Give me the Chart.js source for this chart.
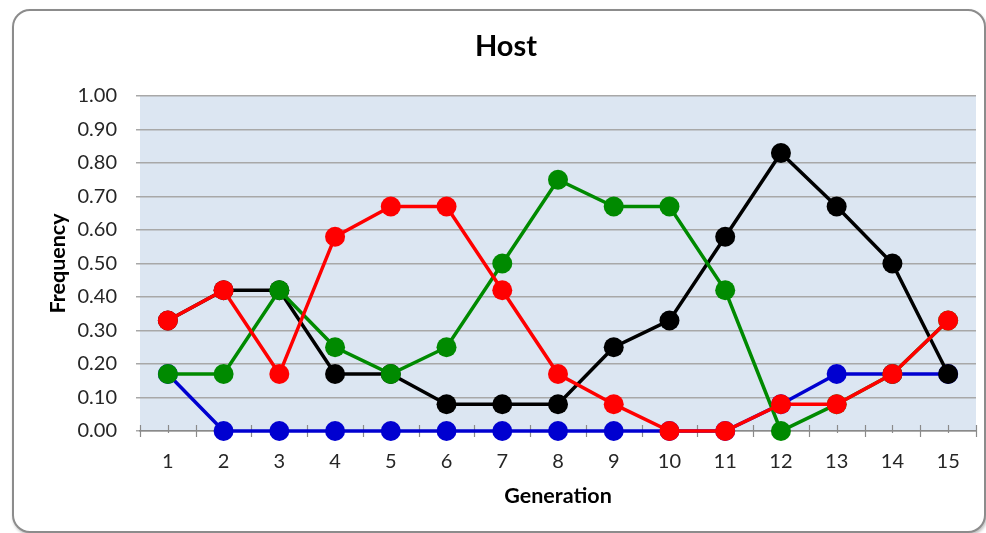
<!DOCTYPE html>
<html>
<head>
<meta charset="utf-8">
<script src="https://cdn.jsdelivr.net/npm/chart.js@4/dist/chart.umd.min.js"></script>
<style>
  html, body { margin: 0; padding: 0; background: #ffffff; }
  #wrap { position: relative; width: 986px; height: 533px; overflow: hidden; }
  #frame { position: absolute; left: 12px; top: 9px; width: 970px; height: 520px;
           border: 2px solid #8c8c8c; border-radius: 18px; box-shadow: 1px 2px 3px rgba(0,0,0,0.25); background: #fff; }
  #c { position: absolute; left: 0; top: 0; }
</style>
</head>
<body>
<div id="wrap">
  <div id="frame"></div>
  <canvas id="c" width="986" height="533"></canvas>
</div>
<script>
const generations = ['1','2','3','4','5','6','7','8','9','10','11','12','13','14','15'];
const blueSeries  = [0.17,0.00,0.00,0.00,0.00,0.00,0.00,0.00,0.00,0.00,0.00,0.08,0.17,0.17,0.17];
const blackSeries = [0.33,0.42,0.42,0.17,0.17,0.08,0.08,0.08,0.25,0.33,0.58,0.83,0.67,0.50,0.17];
const greenSeries = [0.17,0.17,0.42,0.25,0.17,0.25,0.50,0.75,0.67,0.67,0.42,0.00,0.08,0.17,0.33];
const redSeries   = [0.33,0.42,0.17,0.58,0.67,0.67,0.42,0.17,0.08,0.00,0.00,0.08,0.08,0.17,0.33];
const yTicks = [0,0.1,0.2,0.3,0.4,0.5,0.6,0.7,0.8,0.9,1.0];

const FONT = "Lato, 'Open Sans', 'Liberation Sans', sans-serif";

function ds(label, data, color, order) {
  return {
    label, data, order,
    borderColor: color, backgroundColor: color,
    pointBackgroundColor: color, pointBorderColor: color,
    borderWidth: 3.5, pointRadius: 10, pointHoverRadius: 10, pointBorderWidth: 0,
    tension: 0, fill: false, clip: false
  };
}

const plotBg = {
  id: 'plotBg',
  beforeDraw(chart) {
    const {ctx, chartArea: a} = chart;
    ctx.save();
    ctx.fillStyle = '#dce6f2';
    ctx.fillRect(a.left, a.top, a.right - a.left, a.bottom - a.top);
    ctx.restore();
  }
};

const xTickMarks = {
  id: 'xTickMarks',
  beforeDatasetsDraw(chart) {
    const {ctx, chartArea: a} = chart;
    const xs = chart.scales.x;
    const n = generations.length;
    const step = (a.right - a.left) / n;
    ctx.save();
    ctx.strokeStyle = '#8a8a8a';
    ctx.lineWidth = 1.2;
    for (let i = 0; i <= n; i++) {
      const x = Math.round(a.left + i * step) + 0.5;
      ctx.beginPath(); ctx.moveTo(x, a.bottom - 6); ctx.lineTo(x, a.bottom + 6); ctx.stroke();
    }
    for (let i = 0; i < n; i++) {
      const x = Math.round(xs.getPixelForValue(i)) + 0.5;
      ctx.beginPath(); ctx.moveTo(x, a.bottom - 6); ctx.lineTo(x, a.bottom + 2); ctx.stroke();
    }
    ctx.restore();
  }
};

Chart.defaults.font.family = FONT;

new Chart(document.getElementById('c'), {
  type: 'line',
  data: {
    labels: generations,
    datasets: [
      ds('Red', redSeries, '#ff0000', 1),
      ds('Green', greenSeries, '#008a00', 2),
      ds('Black', blackSeries, '#000000', 3),
      ds('Blue', blueSeries, '#0000d0', 4)
    ]
  },
  options: {
    responsive: false,
    animation: false,
    layout: { padding: { left: 35, right: 9, top: 29, bottom: 24 } },
    plugins: {
      legend: { display: false },
      tooltip: { enabled: false },
      title: {
        display: true, text: 'Host', color: '#000',
        font: { size: 29, weight: 'bold', family: FONT, lineHeight: 1.2 },
        padding: { top: 0, bottom: 32.2 }
      }
    },
    scales: {
      x: {
        type: 'category',
        offset: true,
        afterFit(scale) { scale.height = 78; },
        grid: { display: true, drawOnChartArea: false, drawTicks: false, color: '#8a8a8a' },
        border: { display: true, color: '#8a8a8a', width: 1.5 },
        ticks: { color: '#262626', padding: 19, font: { size: 20, family: FONT }, maxRotation: 0 },
        title: {
          display: true, text: 'Generation', color: '#000',
          font: { size: 21.5, weight: 'bold', family: FONT, lineHeight: 1.2 },
          padding: { top: 4, bottom: 0 }
        }
      },
      y: {
        min: 0, max: 1,
        afterBuildTicks(scale) { scale.ticks = yTicks.map(v => ({ value: v })); },
        afterFit(scale) { scale.width = 105; },
        grid: { color: '#a8a8a8', lineWidth: 1.5, tickLength: 4, drawTicks: true },
        border: { display: false },
        ticks: {
          color: '#262626', padding: 19, font: { size: 20, family: FONT },
          callback: v => Number(v).toFixed(2)
        },
        title: {
          display: true, text: 'Frequency', color: '#000',
          font: { size: 21.5, weight: 'bold', family: FONT, lineHeight: 1.2 },
          padding: { top: 10, bottom: 0 }
        }
      }
    }
  },
  plugins: [plotBg, xTickMarks]
});
</script>
</body>
</html>
